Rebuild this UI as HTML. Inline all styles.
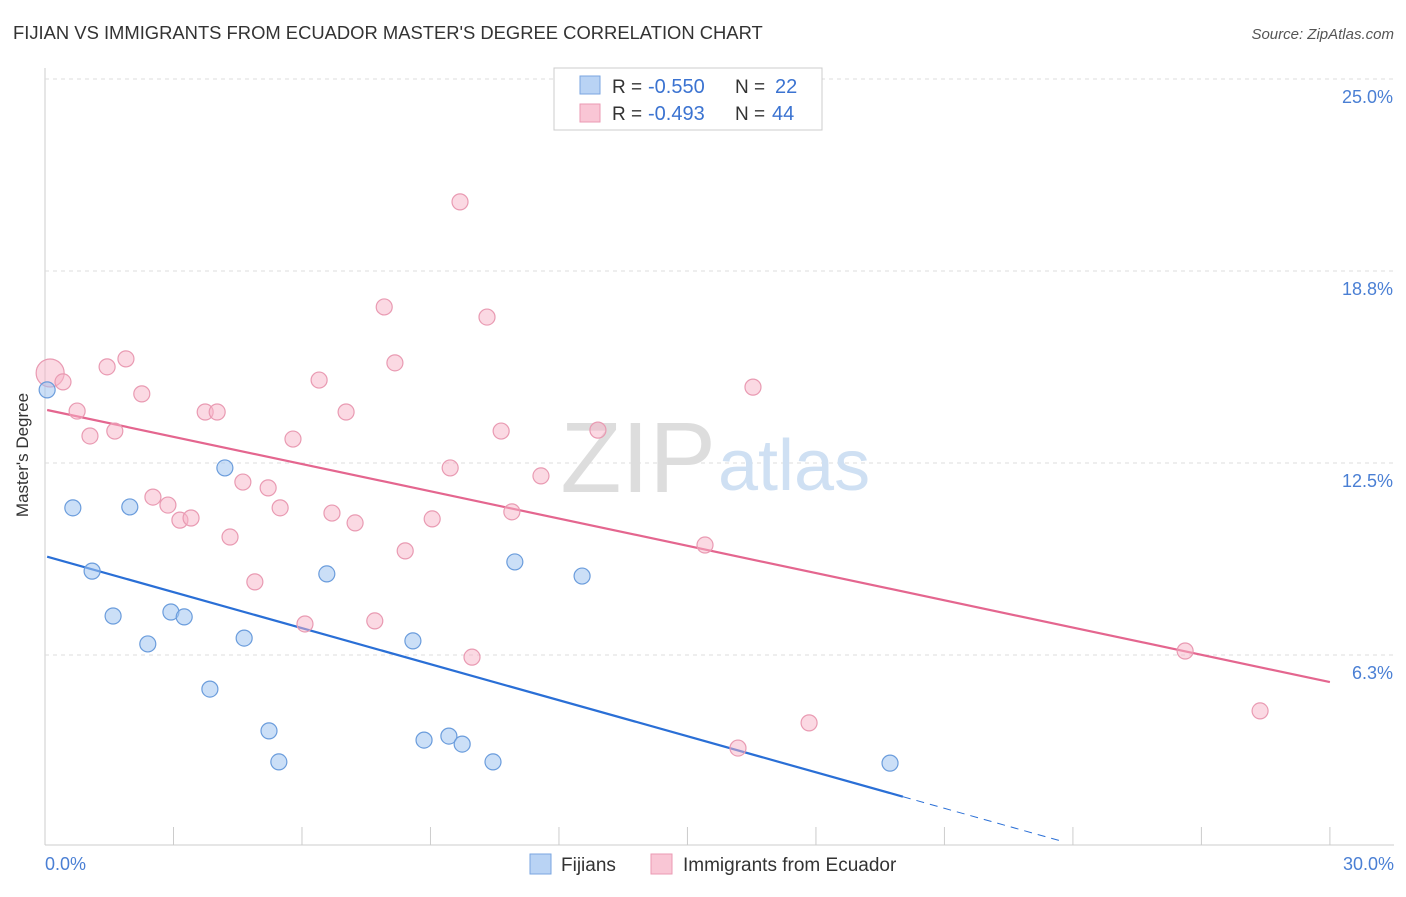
<!DOCTYPE html>
<html><head><meta charset="utf-8"><style>
body{margin:0;background:#fff;font-family:"Liberation Sans",sans-serif;}
svg text{font-family:"Liberation Sans",sans-serif;}
</style></head><body>
<svg width="1406" height="892" viewBox="0 0 1406 892">
<text x="13" y="39" font-size="18.4" fill="#333">FIJIAN VS IMMIGRANTS FROM ECUADOR MASTER'S DEGREE CORRELATION CHART</text>
<text x="1394" y="39" font-size="15" fill="#555" font-style="italic" text-anchor="end">Source: ZipAtlas.com</text>
<g id="grid"></g>
<text x="716" y="492" font-size="100" fill="#ddd" text-anchor="end" font-family="Liberation Serif">ZIP</text>
<text x="718" y="490" font-size="72" fill="#cfe0f3">atlas</text>
<g id="lines"></g>
<g id="pts"></g>
<text x="28" y="455" font-size="17" fill="#333" text-anchor="middle" transform="rotate(-90 28 455)">Master's Degree</text>
<text x="45" y="870" font-size="18" fill="#4a7fd4">0.0%</text>
<text x="1394" y="870" font-size="18" fill="#4a7fd4" text-anchor="end">30.0%</text>
<g>
<rect x="554" y="68" width="268" height="62" fill="#fff" stroke="#ccc"/>
<rect x="580" y="76" width="20" height="18" fill="#b9d3f4" stroke="#7aa6e0"/>
<rect x="580" y="104" width="20" height="18" fill="#f9c6d5" stroke="#eb9ab3"/>
<text x="612" y="93" font-size="19" fill="#333">R =</text>
<text x="648" y="93" font-size="20" fill="#3b73d1">-0.550</text>
<text x="735" y="93" font-size="19" fill="#333">N =</text>
<text x="775" y="93" font-size="20" fill="#3b73d1">22</text>
<text x="612" y="120" font-size="19" fill="#333">R =</text>
<text x="648" y="120" font-size="20" fill="#3b73d1">-0.493</text>
<text x="735" y="120" font-size="19" fill="#333">N =</text>
<text x="772" y="120" font-size="20" fill="#3b73d1">44</text>
</g>
<g>
<rect x="530" y="854" width="21" height="20" fill="#b9d3f4" stroke="#7aa6e0"/>
<text x="561" y="871" font-size="19" fill="#333">Fijians</text>
<rect x="651" y="854" width="21" height="20" fill="#f9c6d5" stroke="#eb9ab3"/>
<text x="683" y="871" font-size="19" fill="#333">Immigrants from Ecuador</text>
</g>
</svg>
<script>
const yTicks=[25,18.75,12.5,6.25];
const yTickLabels=["25.0%","18.8%","12.5%","6.3%"];
const xTicks=[0,3,6,9,12,15,18,21,24,27,30];
const blueX=[0.05,0.65,1.10,1.59,1.98,2.40,2.94,3.25,3.85,4.20,4.65,5.23,5.46,6.58,8.59,8.85,9.43,9.74,10.46,10.97,12.54,19.73];
const blueY=[14.88,11.04,8.98,7.52,11.07,6.61,7.65,7.49,5.14,12.34,6.80,3.78,2.77,8.89,6.71,3.48,3.61,3.35,2.77,9.28,8.82,2.73];
const pinkX=[0.12,0.42,0.75,1.05,1.45,1.63,1.89,2.26,2.52,2.87,3.15,3.41,3.74,4.02,4.32,4.62,4.90,5.21,5.49,5.79,6.07,6.40,6.70,7.03,7.24,7.70,7.92,8.17,8.41,9.04,9.46,9.69,9.97,10.32,10.65,10.90,11.58,12.91,15.41,16.53,17.84,16.18,26.62,28.37];
const pinkY=[15.43,15.14,14.19,13.38,15.63,13.54,15.89,14.75,11.39,11.13,10.64,10.71,14.16,14.16,10.09,11.88,8.63,11.69,11.04,13.28,7.26,15.20,10.87,14.16,10.55,7.36,17.58,15.76,9.64,10.68,12.34,21.00,6.18,17.25,13.54,10.91,12.08,13.57,9.83,14.97,4.04,3.22,6.38,4.43];
const blueTrend=[9.47,-0.391];
const pinkTrend=[14.24,-0.2957];
const sx=v=>45+v*42.83, sy=v=>847-v*30.72;
const NS="http://www.w3.org/2000/svg";
function mk(t,a,p){const e=document.createElementNS(NS,t);for(const k in a)e.setAttribute(k,a[k]);document.getElementById(p).appendChild(e);return e;}
mk('line',{x1:45,y1:68,x2:45,y2:845,stroke:'#ccc'},'grid');
mk('line',{x1:45,y1:845,x2:1394,y2:845,stroke:'#ccc'},'grid');
yTicks.forEach((t,i)=>{
 const l=mk('line',{x1:45,y1:sy(t),x2:1394,y2:sy(t),stroke:'#ddd','stroke-dasharray':'4,4'},'grid');
 
 
 const tx=mk('text',{x:1393,y:sy(t)+24,'font-size':18,fill:'#4a7fd4','text-anchor':'end'},'grid');
 tx.textContent=yTickLabels[i];
 
 
});
xTicks.forEach(t=>{
 const l=mk('line',{x1:sx(t),y1:827,x2:sx(t),y2:845,stroke:'#ccc'},'grid');
 
 
});
function trend(c,x0,x1,col,dash){
 const l=mk('line',{x1:sx(x0),y1:sy(c[0]+c[1]*x0),x2:sx(x1),y2:sy(c[0]+c[1]*x1),stroke:col,'stroke-width':dash?1:2.2},'lines');
 if(dash)l.setAttribute('stroke-dasharray','8,6');
 return l;
}
let l=trend(blueTrend,0.05,20.03,'#2a6fd6',false);


l=trend(blueTrend,20.03,23.8,'#2a6fd6',true);


l=trend(pinkTrend,0.05,30,'#e4668f',false);


pinkX.forEach((x,i)=>{
 const c=mk('circle',{cx:sx(x),cy:sy(pinkY[i]),r:i==0?14:8,fill:'rgba(248,180,200,0.5)',stroke:'#e99ab2','stroke-width':1.2},'pts');
 
 
});
blueX.forEach((x,i)=>{
 const c=mk('circle',{cx:sx(x),cy:sy(blueY[i]),r:8,fill:'rgba(160,196,240,0.55)',stroke:'#6a9cdc','stroke-width':1.2},'pts');
 
 
});
</script>
</body></html>
